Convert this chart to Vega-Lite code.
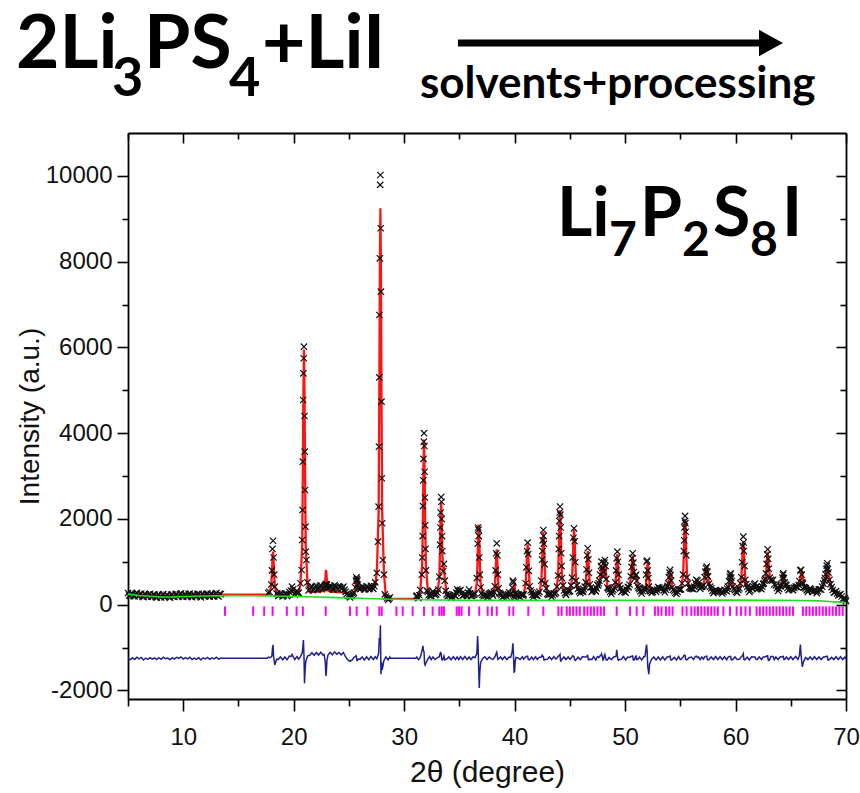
{
"$schema": "https://vega.github.io/schema/vega-lite/v6.json",
"width": 718, "height": 566,
"autosize": "none",
"padding": {"left": 128, "top": 133, "right": 14, "bottom": 94},
"background": "white",
"datasets": {
"p": [
{"x":5.0,"c":240,"o":270,"d":-1240},{"x":5.2,"c":238,"o":203,"d":-1285},{"x":5.4,"c":236,"o":256,"d":-1240},{"x":5.6,"c":234,"o":194,"d":-1280},{"x":5.8,"c":232,"o":277,"d":-1225},{"x":6.0,"c":228,"o":208,"d":-1265},{"x":6.2,"c":225,"o":260,"d":-1230},{"x":6.4,"c":222,"o":177,"d":-1290},{"x":6.6,"c":220,"o":235,"d":-1245},{"x":6.8,"c":217,"o":187,"d":-1275},{"x":7.0,"c":214,"o":254,"d":-1235},{"x":7.2,"c":211,"o":186,"d":-1270},{"x":7.4,"c":208,"o":233,"d":-1240},{"x":7.6,"c":206,"o":166,"d":-1280},{"x":7.8,"c":204,"o":234,"d":-1235},{"x":8.0,"c":203,"o":168,"d":-1275},{"x":8.2,"c":203,"o":248,"d":-1225},{"x":8.4,"c":204,"o":184,"d":-1260},{"x":8.6,"c":205,"o":225,"d":-1245},{"x":8.8,"c":206,"o":161,"d":-1285},{"x":9.0,"c":207,"o":242,"d":-1235},{"x":9.2,"c":208,"o":178,"d":-1270},{"x":9.4,"c":210,"o":250,"d":-1230},{"x":9.6,"c":211,"o":196,"d":-1255},{"x":9.8,"c":212,"o":262,"d":-1220},{"x":10.0,"c":213,"o":178,"d":-1270},{"x":10.2,"c":214,"o":244,"d":-1235},{"x":10.4,"c":214,"o":189,"d":-1265},{"x":10.6,"c":215,"o":260,"d":-1225},{"x":10.8,"c":215,"o":175,"d":-1280},{"x":11.0,"c":216,"o":236,"d":-1245},{"x":11.2,"c":216,"o":186,"d":-1275},{"x":11.4,"c":217,"o":252,"d":-1235},{"x":11.6,"c":217,"o":172,"d":-1290},{"x":11.8,"c":218,"o":243,"d":-1240},{"x":12.0,"c":218,"o":198,"d":-1265},{"x":12.2,"c":219,"o":259,"d":-1230},{"x":12.4,"c":219,"o":184,"d":-1275},{"x":12.6,"c":220,"o":250,"d":-1240},{"x":12.8,"c":220,"o":195,"d":-1265},{"x":13.0,"c":221,"o":271,"d":-1225},{"x":13.2,"c":221,"o":191,"d":-1270},{"x":13.4,"c":222,"o":247,"d":-1245},
{"x":5.1,"o":215},{"x":5.3,"o":262},{"x":5.5,"o":205},{"x":5.7,"o":250},{"x":5.9,"o":200},{"x":6.1,"o":242},{"x":6.3,"o":198},{"x":6.5,"o":250},{"x":6.7,"o":196},{"x":6.9,"o":236},{"x":7.1,"o":185},{"x":7.3,"o":238},{"x":7.5,"o":180},{"x":7.7,"o":225},{"x":7.9,"o":178},{"x":8.1,"o":226},{"x":8.3,"o":175},{"x":8.5,"o":232},{"x":8.7,"o":185},{"x":8.9,"o":230},{"x":9.1,"o":190},{"x":9.3,"o":236},{"x":9.5,"o":188},{"x":9.7,"o":242},{"x":9.9,"o":196},{"x":10.1,"o":238},{"x":10.3,"o":192},{"x":10.5,"o":245},{"x":10.7,"o":195},{"x":10.9,"o":240},{"x":11.1,"o":198},{"x":11.3,"o":246},{"x":11.5,"o":196},{"x":11.7,"o":248},{"x":11.9,"o":200},{"x":12.1,"o":244},{"x":12.3,"o":202},{"x":12.5,"o":250},{"x":12.7,"o":200},{"x":12.9,"o":246},{"x":13.1,"o":205},{"x":13.3,"o":252},
{"x":13.5,"c":235,"d":-1250},{"x":17.6,"c":235,"d":-1250},
{"x":17.7,"c":242,"o":270,"d":-1222},{"x":17.81,"c":280,"o":300,"d":-1235},{"x":17.97,"c":439,"o":470,"d":-1220},{"x":18.03,"c":738,"o":800,"d":-1190},{"x":18.08,"c":1066,"o":1300,"d":-1010},{"x":18.13,"c":1235,"o":1490,"d":-940},{"x":18.18,"c":1066,"o":1100,"d":-1215},{"x":18.23,"c":738,"o":700,"d":-1300},{"x":18.29,"c":439,"o":420,"d":-1405},{"x":18.45,"c":280,"o":260,"d":-1270},
{"x":18.6,"c":235,"o":205,"d":-1280},{"x":18.8,"c":232,"o":265,"d":-1217},{"x":19.0,"c":230,"o":195,"d":-1285},{"x":19.2,"c":230,"o":260,"d":-1220},{"x":19.4,"c":235,"o":200,"d":-1285},{"x":19.6,"c":250,"o":300,"d":-1200},{"x":19.75,"c":290,"o":330,"d":-1210},{"x":19.85,"c":330,"o":420,"d":-1160},{"x":19.95,"c":320,"o":360,"d":-1210},{"x":20.1,"c":270,"o":240,"d":-1280},{"x":20.3,"c":280,"o":320,"d":-1210},{"x":20.45,"c":300,"o":280,"d":-1270},
{"x":20.61,"c":464,"o":500,"d":-1210},{"x":20.72,"o":809},{"x":20.77,"c":1378,"o":1509,"d":-1120},{"x":20.8,"o":2208},{"x":20.83,"c":3093,"o":3335,"d":-1000},{"x":20.86,"o":4774},{"x":20.88,"c":4978,"o":5396,"d":-825},{"x":20.91,"o":5746},{"x":20.93,"c":5950,"o":6017,"d":-1180},{"x":20.98,"c":4978,"o":4400,"d":-1835},{"x":21.0,"o":3568},{"x":21.03,"c":3093,"o":2675,"d":-1550},{"x":21.06,"o":1819},{"x":21.09,"c":1378,"o":1236,"d":-1330},{"x":21.15,"o":1042},{"x":21.25,"c":464,"o":520,"d":-1200},
{"x":21.45,"c":290,"o":360,"d":-1180},{"x":21.65,"c":300,"o":430,"d":-1120},{"x":21.85,"c":300,"o":370,"d":-1180},{"x":22.05,"c":305,"o":440,"d":-1115},{"x":22.25,"c":305,"o":380,"d":-1175},{"x":22.45,"c":310,"o":450,"d":-1110},{"x":22.65,"c":315,"o":390,"d":-1175},{"x":22.75,"c":330,"o":420,"d":-1160},{"x":22.85,"c":520,"o":460,"d":-1310},{"x":22.9,"c":740,"o":430,"d":-1560},{"x":22.93,"c":810,"o":480,"d":-1665},{"x":22.96,"c":740,"o":440,"d":-1550},{"x":23.01,"c":520,"o":470,"d":-1300},{"x":23.11,"c":330,"o":410,"d":-1170},
{"x":23.3,"c":305,"o":440,"d":-1115},{"x":23.5,"c":300,"o":380,"d":-1170},{"x":23.7,"c":300,"o":450,"d":-1100},{"x":23.9,"c":295,"o":390,"d":-1155},{"x":24.1,"c":295,"o":430,"d":-1115},{"x":24.3,"c":290,"o":370,"d":-1170},{"x":24.5,"c":285,"o":420,"d":-1115},{"x":24.7,"c":270,"o":300,"d":-1220},{"x":24.9,"c":250,"o":210,"d":-1290},{"x":25.1,"c":240,"o":170,"d":-1320},{"x":25.3,"c":240,"o":200,"d":-1290},
{"x":25.45,"c":260,"o":280,"d":-1230},{"x":25.58,"c":360,"o":400,"d":-1210},{"x":25.64,"c":500,"o":560,"d":-1190},{"x":25.68,"c":610,"o":640,"d":-1220},{"x":25.72,"c":650,"o":600,"d":-1300},{"x":25.76,"c":610,"o":560,"d":-1300},{"x":25.8,"c":500,"o":470,"d":-1280},{"x":25.86,"c":400,"o":380,"d":-1270},{"x":26.0,"c":385,"o":360,"d":-1275},
{"x":26.2,"c":390,"o":420,"d":-1220},{"x":26.4,"c":392,"o":350,"d":-1290},{"x":26.6,"c":395,"o":430,"d":-1215},{"x":26.8,"c":395,"o":360,"d":-1285},{"x":27.0,"c":398,"o":440,"d":-1210},{"x":27.2,"c":400,"o":370,"d":-1280},{"x":27.38,"c":480,"o":520,"d":-1215},
{"x":27.53,"c":750,"o":740,"d":-1260},{"x":27.64,"o":1469},{"x":27.69,"c":2170,"o":2285,"d":-1135},{"x":27.72,"o":3685},{"x":27.75,"c":4820,"o":5300,"d":-780},{"x":27.76,"o":6756},{"x":27.8,"c":7740,"o":8078,"d":-910},{"x":27.83,"o":9790},{"x":27.85,"c":9245,"o":10020,"d":-480},{"x":27.88,"o":8778},{"x":27.9,"c":7740,"o":7300,"d":-1620},{"x":27.95,"c":4820,"o":4735,"d":-1335},{"x":27.98,"o":2948},{"x":28.01,"c":2170,"o":1898,"d":-1520},{"x":28.06,"o":1042},{"x":28.17,"c":750,"o":700,"d":-1300},
{"x":28.35,"c":160,"o":190,"d":-1220},{"x":28.55,"c":150,"o":110,"d":-1290},{"x":28.7,"c":140,"o":170,"d":-1220},{"x":28.75,"c":135,"d":-1250},{"x":31.05,"c":135,"d":-1250},
{"x":31.15,"c":180,"o":210,"d":-1220},{"x":31.3,"c":185,"o":150,"d":-1285},{"x":31.46,"c":322,"o":340,"d":-1230},{"x":31.6,"o":700},{"x":31.63,"c":910,"o":1100,"d":-1060},{"x":31.68,"o":1600},{"x":31.7,"c":2013,"o":2300,"d":-960},{"x":31.73,"o":2900},{"x":31.75,"c":3225,"o":3400,"d":-1075},{"x":31.78,"o":3800},{"x":31.8,"c":3850,"o":4000,"d":-1100},{"x":31.83,"o":3700},{"x":31.85,"c":3225,"o":3100,"d":-1375},{"x":31.88,"o":2500},{"x":31.9,"c":2013,"o":1850,"d":-1410},{"x":31.93,"o":1300},{"x":31.97,"c":910,"o":800,"d":-1360},{"x":32.14,"c":322,"o":300,"d":-1270},
{"x":32.3,"c":200,"o":240,"d":-1210},{"x":32.45,"c":230,"o":200,"d":-1280},{"x":32.6,"c":280,"o":310,"d":-1220},{"x":32.8,"c":250,"o":220,"d":-1280},
{"x":33.01,"c":264,"o":280,"d":-1235},{"x":33.18,"c":620,"o":650,"d":-1220},{"x":33.25,"c":1288,"o":1400,"d":-1140},{"x":33.28,"o":1800},{"x":33.3,"c":2022,"o":2150,"d":-1120},{"x":33.35,"c":2400,"o":2510,"d":-1140},{"x":33.38,"o":2400},{"x":33.4,"c":2022,"o":2000,"d":-1270},{"x":33.43,"o":1600},{"x":33.45,"c":1288,"o":1250,"d":-1290},{"x":33.52,"c":800,"o":780,"d":-1270},{"x":33.6,"c":900,"o":950,"d":-1200},{"x":33.68,"c":600,"o":560,"d":-1290},{"x":33.85,"c":260,"o":240,"d":-1270},
{"x":34.05,"c":200,"o":230,"d":-1220},{"x":34.25,"c":195,"o":160,"d":-1285},{"x":34.45,"c":200,"o":235,"d":-1215},{"x":34.65,"c":230,"o":200,"d":-1280},{"x":34.8,"c":330,"o":360,"d":-1220},{"x":34.95,"c":340,"o":310,"d":-1280},{"x":35.1,"c":300,"o":340,"d":-1210},{"x":35.3,"c":240,"o":210,"d":-1280},{"x":35.5,"c":210,"o":250,"d":-1210},{"x":35.7,"c":230,"o":200,"d":-1280},{"x":35.88,"c":320,"o":350,"d":-1220},{"x":36.05,"c":230,"o":200,"d":-1280},{"x":36.25,"c":200,"o":235,"d":-1215},
{"x":36.41,"c":243,"o":260,"d":-1235},{"x":36.58,"c":514,"o":620,"d":-1140},{"x":36.65,"c":1023,"o":1420,"d":-730},{"x":36.7,"c":1582,"o":1800,"d":-1030},{"x":36.73,"o":1750},{"x":36.75,"c":1870,"o":1600,"d":-1520},{"x":36.8,"c":1582,"o":1100,"d":-1945},{"x":36.85,"c":1023,"o":700,"d":-1570},{"x":36.92,"c":514,"o":400,"d":-1360},{"x":37.09,"c":243,"o":230,"d":-1260},
{"x":37.3,"c":190,"o":225,"d":-1215},{"x":37.5,"c":200,"o":170,"d":-1280},{"x":37.7,"c":220,"o":250,"d":-1220},{"x":37.9,"c":300,"o":280,"d":-1265},
{"x":38.04,"c":240,"o":210,"d":-1275},{"x":38.21,"c":395,"o":430,"d":-1215},{"x":38.28,"c":725,"o":800,"d":-1175},{"x":38.33,"c":1088,"o":1200,"d":-1140},{"x":38.38,"c":1290,"o":1431,"d":-1110},{"x":38.43,"c":1088,"o":1150,"d":-1190},{"x":38.48,"c":725,"o":700,"d":-1275},{"x":38.55,"c":395,"o":380,"d":-1265},{"x":38.72,"c":220,"o":250,"d":-1220},
{"x":38.9,"c":200,"o":170,"d":-1280},{"x":39.1,"c":195,"o":230,"d":-1215},{"x":39.3,"c":210,"o":180,"d":-1280},{"x":39.5,"c":260,"o":290,"d":-1220},
{"x":39.65,"c":225,"o":250,"d":-1225},{"x":39.78,"c":250,"o":400,"d":-1100},{"x":39.84,"c":290,"o":560,"d":-900},{"x":39.89,"c":380,"o":520,"d":-1110},{"x":39.95,"c":520,"o":200,"d":-1570},{"x":40.0,"c":470,"o":160,"d":-1560},{"x":40.05,"c":330,"o":250,"d":-1330},{"x":40.12,"c":260,"o":280,"d":-1230},{"x":40.3,"c":220,"o":230,"d":-1240},
{"x":40.5,"c":200,"o":170,"d":-1280},{"x":40.7,"c":205,"o":240,"d":-1215},
{"x":40.82,"c":260,"o":240,"d":-1270},{"x":41.0,"c":464,"o":500,"d":-1215},{"x":41.07,"c":824,"o":870,"d":-1205},{"x":41.125,"c":1208,"o":1250,"d":-1210},{"x":41.18,"c":1400,"o":1447,"d":-1205},{"x":41.235,"c":1208,"o":1180,"d":-1280},{"x":41.29,"c":824,"o":790,"d":-1285},{"x":41.36,"c":464,"o":430,"d":-1285},{"x":41.54,"c":260,"o":290,"d":-1220},
{"x":41.7,"c":210,"o":180,"d":-1280},{"x":41.9,"c":220,"o":255,"d":-1215},{"x":42.05,"c":240,"o":210,"d":-1280},
{"x":42.24,"c":275,"o":300,"d":-1225},{"x":42.42,"c":530,"o":560,"d":-1220},{"x":42.49,"c":980,"o":1050,"d":-1180},{"x":42.52,"o":1250},{"x":42.545,"c":1460,"o":1500,"d":-1210},{"x":42.6,"c":1700,"o":1742,"d":-1210},{"x":42.63,"o":1600},{"x":42.655,"c":1460,"o":1420,"d":-1290},{"x":42.71,"c":980,"o":940,"d":-1290},{"x":42.78,"c":530,"o":500,"d":-1280},{"x":42.96,"c":275,"o":250,"d":-1275},
{"x":43.15,"c":220,"o":250,"d":-1220},{"x":43.35,"c":210,"o":180,"d":-1280},{"x":43.55,"c":230,"o":265,"d":-1215},
{"x":43.75,"c":300,"o":280,"d":-1270},{"x":43.93,"c":640,"o":680,"d":-1210},{"x":44.0,"c":1240,"o":1300,"d":-1190},{"x":44.03,"o":1600},{"x":44.055,"c":1880,"o":1950,"d":-1180},{"x":44.08,"o":2150},{"x":44.11,"c":2200,"o":2290,"d":-1160},{"x":44.14,"o":2100},{"x":44.165,"c":1880,"o":1800,"d":-1330},{"x":44.22,"c":1240,"o":1200,"d":-1290},{"x":44.25,"o":900},{"x":44.29,"c":640,"o":620,"d":-1270},{"x":44.47,"c":300,"o":330,"d":-1220},
{"x":44.65,"c":260,"o":230,"d":-1280},{"x":44.85,"c":300,"o":330,"d":-1220},
{"x":45.02,"c":345,"o":320,"d":-1275},{"x":45.2,"c":595,"o":630,"d":-1215},{"x":45.27,"c":1040,"o":1100,"d":-1190},{"x":45.325,"c":1513,"o":1560,"d":-1205},{"x":45.38,"c":1750,"o":1781,"d":-1220},{"x":45.435,"c":1513,"o":1480,"d":-1285},{"x":45.49,"c":1040,"o":990,"d":-1300},{"x":45.56,"c":595,"o":560,"d":-1285},{"x":45.74,"c":345,"o":370,"d":-1225},
{"x":45.95,"c":300,"o":270,"d":-1280},{"x":46.15,"c":290,"o":330,"d":-1210},
{"x":46.26,"c":330,"o":360,"d":-1220},{"x":46.44,"c":490,"o":520,"d":-1220},{"x":46.51,"c":780,"o":820,"d":-1210},{"x":46.565,"c":1095,"o":1150,"d":-1195},{"x":46.62,"c":1250,"o":1315,"d":-1185},{"x":46.675,"c":1095,"o":1060,"d":-1285},{"x":46.73,"c":780,"o":740,"d":-1290},{"x":46.8,"c":490,"o":470,"d":-1270},{"x":46.98,"c":330,"o":300,"d":-1280},
{"x":47.15,"c":320,"o":360,"d":-1210},{"x":47.35,"c":350,"o":310,"d":-1290},{"x":47.5,"c":420,"o":460,"d":-1210},
{"x":47.62,"c":480,"o":500,"d":-1230},{"x":47.75,"c":640,"o":700,"d":-1190},{"x":47.82,"c":830,"o":900,"d":-1180},{"x":47.87,"c":900,"o":1004,"d":-1145},{"x":47.93,"c":820,"o":860,"d":-1210},{"x":48.0,"c":700,"o":660,"d":-1290},{"x":48.06,"c":780,"o":760,"d":-1270},{"x":48.12,"c":920,"o":980,"d":-1190},{"x":48.17,"c":950,"o":1040,"d":-1160},{"x":48.23,"c":880,"o":900,"d":-1230},{"x":48.3,"c":640,"o":600,"d":-1290},{"x":48.4,"c":440,"o":400,"d":-1290},{"x":48.55,"c":330,"o":350,"d":-1230},
{"x":48.75,"c":280,"o":250,"d":-1280},
{"x":48.94,"c":325,"o":350,"d":-1225},{"x":49.12,"c":478,"o":520,"d":-1210},{"x":49.19,"c":748,"o":800,"d":-1200},{"x":49.245,"c":1036,"o":1080,"d":-1055},{"x":49.3,"c":1180,"o":1237,"d":-1190},{"x":49.355,"c":1036,"o":1000,"d":-1285},{"x":49.41,"c":748,"o":700,"d":-1300},{"x":49.48,"c":478,"o":450,"d":-1280},{"x":49.66,"c":325,"o":300,"d":-1275},
{"x":49.85,"c":300,"o":340,"d":-1210},{"x":50.05,"c":320,"o":280,"d":-1290},{"x":50.25,"c":380,"o":410,"d":-1220},
{"x":50.4,"c":450,"o":470,"d":-1230},{"x":50.52,"c":620,"o":660,"d":-1210},{"x":50.59,"c":840,"o":880,"d":-1210},{"x":50.64,"c":1030,"o":1080,"d":-1200},{"x":50.69,"c":1150,"o":1198,"d":-1200},{"x":50.745,"c":1020,"o":980,"d":-1290},{"x":50.8,"c":800,"o":760,"d":-1290},{"x":50.87,"c":640,"o":610,"d":-1280},{"x":50.95,"c":640,"o":680,"d":-1210},{"x":51.0,"c":650,"o":700,"d":-1200},{"x":51.06,"c":590,"o":560,"d":-1280},{"x":51.15,"c":460,"o":430,"d":-1280},{"x":51.3,"c":330,"o":360,"d":-1220},
{"x":51.5,"c":300,"o":260,"d":-1290},{"x":51.7,"c":320,"o":360,"d":-1210},
{"x":51.8,"c":360,"o":400,"d":-1210},{"x":51.9,"c":470,"o":700,"d":-1020},{"x":51.95,"c":680,"o":1000,"d":-930},{"x":52.0,"c":880,"o":1027,"d":-1100},{"x":52.05,"c":980,"o":800,"d":-1430},{"x":52.1,"c":900,"o":620,"d":-1530},{"x":52.15,"c":700,"o":420,"d":-1620},{"x":52.22,"c":460,"o":330,"d":-1380},{"x":52.4,"c":300,"o":280,"d":-1270},
{"x":52.6,"c":320,"o":350,"d":-1220},{"x":52.8,"c":340,"o":300,"d":-1290},{"x":53.0,"c":380,"o":410,"d":-1220},{"x":53.2,"c":400,"o":360,"d":-1290},{"x":53.4,"c":360,"o":395,"d":-1215},{"x":53.6,"c":330,"o":290,"d":-1290},{"x":53.8,"c":380,"o":410,"d":-1220},
{"x":53.9,"c":470,"o":500,"d":-1220},{"x":53.97,"c":600,"o":640,"d":-1210},{"x":54.02,"c":710,"o":750,"d":-1210},{"x":54.07,"c":760,"o":810,"d":-1200},{"x":54.12,"c":710,"o":690,"d":-1270},{"x":54.17,"c":600,"o":560,"d":-1290},{"x":54.25,"c":430,"o":400,"d":-1280},{"x":54.45,"c":300,"o":320,"d":-1230},
{"x":54.65,"c":290,"o":250,"d":-1290},{"x":54.85,"c":320,"o":360,"d":-1210},{"x":55.0,"c":380,"o":350,"d":-1280},
{"x":55.07,"c":385,"o":360,"d":-1275},{"x":55.25,"c":674,"o":700,"d":-1225},{"x":55.32,"c":1184,"o":1250,"d":-1185},{"x":55.35,"o":1500},{"x":55.375,"c":1728,"o":1800,"d":-1180},{"x":55.4,"o":1950},{"x":55.43,"c":2000,"o":2070,"d":-1180},{"x":55.46,"o":1900},{"x":55.485,"c":1728,"o":1700,"d":-1280},{"x":55.54,"c":1184,"o":1150,"d":-1285},{"x":55.61,"c":674,"o":640,"d":-1285},{"x":55.79,"c":385,"o":400,"d":-1235},
{"x":56.0,"c":350,"o":380,"d":-1220},{"x":56.2,"c":390,"o":360,"d":-1280},{"x":56.35,"c":470,"o":510,"d":-1210},{"x":56.45,"c":530,"o":580,"d":-1200},{"x":56.55,"c":545,"o":560,"d":-1235},{"x":56.65,"c":480,"o":510,"d":-1220},{"x":56.8,"c":400,"o":370,"d":-1280},{"x":56.95,"c":390,"o":420,"d":-1220},{"x":57.1,"c":470,"o":450,"d":-1270},{"x":57.2,"c":610,"o":640,"d":-1220},{"x":57.27,"c":730,"o":770,"d":-1210},{"x":57.33,"c":810,"o":850,"d":-1210},{"x":57.39,"c":840,"o":887,"d":-1200},{"x":57.45,"c":800,"o":770,"d":-1280},{"x":57.51,"c":700,"o":660,"d":-1290},{"x":57.6,"c":520,"o":490,"d":-1280},{"x":57.8,"c":350,"o":380,"d":-1220},
{"x":58.0,"c":300,"o":270,"d":-1280},{"x":58.2,"c":300,"o":340,"d":-1210},{"x":58.4,"c":330,"o":300,"d":-1280},{"x":58.6,"c":300,"o":335,"d":-1215},{"x":58.8,"c":290,"o":260,"d":-1280},{"x":59.0,"c":310,"o":345,"d":-1215},{"x":59.2,"c":350,"o":315,"d":-1285},
{"x":59.3,"c":400,"o":420,"d":-1230},{"x":59.42,"c":510,"o":550,"d":-1210},{"x":59.48,"c":610,"o":650,"d":-1210},{"x":59.52,"c":665,"o":705,"d":-1210},{"x":59.56,"c":690,"o":732,"d":-1210},{"x":59.6,"c":665,"o":630,"d":-1280},{"x":59.66,"c":590,"o":550,"d":-1290},{"x":59.75,"c":450,"o":420,"d":-1280},{"x":59.95,"c":310,"o":340,"d":-1220},
{"x":60.15,"c":310,"o":280,"d":-1280},
{"x":60.34,"c":400,"o":380,"d":-1275},{"x":60.52,"c":600,"o":640,"d":-1215},{"x":60.59,"c":940,"o":990,"d":-1200},{"x":60.645,"c":1290,"o":1370,"d":-1175},{"x":60.7,"c":1480,"o":1587,"d":-1145},{"x":60.73,"o":1450},{"x":60.755,"c":1290,"o":1250,"d":-1275},{"x":60.81,"c":940,"o":900,"d":-1285},{"x":60.88,"c":600,"o":580,"d":-1275},{"x":61.06,"c":400,"o":420,"d":-1225},
{"x":61.25,"c":340,"o":300,"d":-1290},{"x":61.45,"c":360,"o":395,"d":-1215},
{"x":61.6,"c":400,"o":430,"d":-1220},{"x":61.68,"c":440,"o":470,"d":-1220},{"x":61.76,"c":465,"o":499,"d":-1220},{"x":61.84,"c":440,"o":410,"d":-1270},{"x":61.95,"c":390,"o":360,"d":-1280},
{"x":62.15,"c":370,"o":400,"d":-1220},{"x":62.35,"c":390,"o":360,"d":-1280},{"x":62.5,"c":450,"o":480,"d":-1220},
{"x":62.62,"c":530,"o":560,"d":-1220},{"x":62.75,"c":690,"o":730,"d":-1210},{"x":62.81,"c":910,"o":950,"d":-1210},{"x":62.86,"c":1110,"o":1170,"d":-1190},{"x":62.91,"c":1230,"o":1291,"d":-1190},{"x":62.96,"c":1110,"o":1070,"d":-1290},{"x":63.01,"c":890,"o":840,"d":-1300},{"x":63.1,"c":660,"o":630,"d":-1280},{"x":63.2,"c":540,"o":580,"d":-1210},{"x":63.3,"c":520,"o":560,"d":-1210},{"x":63.4,"c":540,"o":580,"d":-1210},{"x":63.5,"c":500,"o":470,"d":-1280},{"x":63.65,"c":420,"o":450,"d":-1220},{"x":63.85,"c":350,"o":320,"d":-1280},
{"x":64.05,"c":390,"o":425,"d":-1215},{"x":64.15,"c":450,"o":480,"d":-1220},{"x":64.25,"c":590,"o":630,"d":-1210},{"x":64.3,"c":665,"o":700,"d":-1215},{"x":64.33,"c":690,"o":732,"d":-1210},{"x":64.38,"c":655,"o":620,"d":-1280},{"x":64.45,"c":550,"o":520,"d":-1280},{"x":64.6,"c":420,"o":450,"d":-1220},
{"x":64.8,"c":370,"o":340,"d":-1280},{"x":65.0,"c":350,"o":385,"d":-1215},{"x":65.2,"c":370,"o":340,"d":-1280},{"x":65.45,"c":380,"o":420,"d":-1210},{"x":65.65,"c":430,"o":400,"d":-1280},
{"x":65.78,"c":490,"o":550,"d":-1190},{"x":65.87,"c":610,"o":800,"d":-930},{"x":65.93,"c":720,"o":810,"d":-1160},{"x":65.99,"c":770,"o":700,"d":-1320},{"x":66.05,"c":720,"o":520,"d":-1450},{"x":66.11,"c":610,"o":490,"d":-1370},{"x":66.2,"c":470,"o":410,"d":-1310},{"x":66.35,"c":360,"o":380,"d":-1230},
{"x":66.55,"c":330,"o":300,"d":-1280},{"x":66.75,"c":350,"o":380,"d":-1220},{"x":66.95,"c":330,"o":300,"d":-1280},{"x":67.15,"c":310,"o":345,"d":-1215},{"x":67.35,"c":300,"o":270,"d":-1280},{"x":67.55,"c":330,"o":360,"d":-1220},{"x":67.75,"c":380,"o":350,"d":-1280},{"x":67.95,"c":460,"o":490,"d":-1220},
{"x":68.05,"c":530,"o":560,"d":-1220},{"x":68.15,"c":670,"o":710,"d":-1210},{"x":68.21,"c":790,"o":830,"d":-1210},{"x":68.26,"c":870,"o":910,"d":-1210},{"x":68.31,"c":920,"o":965,"d":-1205},{"x":68.36,"c":870,"o":830,"d":-1290},{"x":68.41,"c":790,"o":750,"d":-1290},{"x":68.5,"c":610,"o":580,"d":-1280},{"x":68.7,"c":390,"o":410,"d":-1230},
{"x":68.9,"c":310,"o":280,"d":-1280},{"x":69.1,"c":280,"o":315,"d":-1215},{"x":69.3,"c":250,"o":220,"d":-1280},{"x":69.5,"c":210,"o":245,"d":-1215},{"x":69.7,"c":160,"o":130,"d":-1280},{"x":69.9,"c":120,"o":150,"d":-1220},{"x":70.0,"c":100,"o":80,"d":-1270},
{"x":18.53,"o":250},{"x":18.7,"o":220},{"x":18.9,"o":250},{"x":19.1,"o":215},{"x":19.3,"o":245},{"x":19.5,"o":230},{"x":20.2,"o":290},{"x":20.38,"o":260},{"x":21.35,"o":330},{"x":21.55,"o":400},{"x":21.75,"o":340},{"x":21.95,"o":410},{"x":22.15,"o":350},{"x":22.35,"o":420},{"x":22.55,"o":360},{"x":23.2,"o":390},{"x":23.4,"o":420},{"x":23.6,"o":350},{"x":23.8,"o":420},{"x":24.0,"o":360},{"x":24.2,"o":410},{"x":24.4,"o":390},{"x":24.6,"o":350},{"x":24.8,"o":250},{"x":25.0,"o":200},{"x":25.2,"o":230},{"x":25.38,"o":250},{"x":25.93,"o":400},{"x":26.1,"o":380},{"x":26.3,"o":400},{"x":26.5,"o":370},{"x":26.7,"o":410},{"x":26.9,"o":380},{"x":27.1,"o":400},{"x":27.3,"o":430},{"x":28.25,"o":240},{"x":28.45,"o":150},{"x":28.62,"o":140},
{"x":31.1,"o":190},{"x":31.22,"o":170},{"x":31.38,"o":220},{"x":32.05,"o":330},{"x":32.22,"o":220},{"x":32.38,"o":210},{"x":32.52,"o":250},{"x":32.7,"o":260},{"x":32.9,"o":240},{"x":33.1,"o":350},{"x":33.76,"o":320},{"x":33.95,"o":200},{"x":34.15,"o":210},{"x":34.35,"o":190},{"x":34.55,"o":220},{"x":34.72,"o":280},{"x":34.88,"o":320},{"x":35.02,"o":330},{"x":35.2,"o":260},{"x":35.4,"o":220},{"x":35.6,"o":230},{"x":35.79,"o":280},{"x":35.96,"o":260},{"x":36.15,"o":210},{"x":36.33,"o":230},{"x":37.0,"o":270},{"x":37.2,"o":200},{"x":37.4,"o":210},{"x":37.6,"o":195},{"x":37.8,"o":270},{"x":37.98,"o":250},{"x":38.12,"o":300},{"x":38.63,"o":270},{"x":38.81,"o":220},{"x":39.0,"o":190},{"x":39.2,"o":220},{"x":39.4,"o":240},{"x":39.58,"o":240},{"x":40.2,"o":240},{"x":40.4,"o":210},{"x":40.6,"o":230},{"x":40.76,"o":210},{"x":41.45,"o":330},{"x":41.62,"o":230},{"x":41.8,"o":230},{"x":41.98,"o":210},{"x":42.15,"o":260},{"x":42.87,"o":380},{"x":43.05,"o":230},{"x":43.25,"o":240},{"x":43.45,"o":220},{"x":43.65,"o":250},{"x":43.84,"o":420},{"x":44.38,"o":450},{"x":44.56,"o":270},{"x":44.75,"o":290},{"x":44.94,"o":300},{"x":45.11,"o":450},{"x":45.65,"o":450},{"x":45.85,"o":310},{"x":46.05,"o":310},{"x":46.2,"o":300},{"x":46.35,"o":420},{"x":46.89,"o":400},{"x":47.06,"o":320},{"x":47.25,"o":340},{"x":47.42,"o":380},{"x":47.56,"o":450},{"x":47.68,"o":560},{"x":48.47,"o":380},{"x":48.65,"o":300},{"x":48.85,"o":310},{"x":49.03,"o":400},{"x":49.57,"o":380},{"x":49.75,"o":320},{"x":49.95,"o":300},{"x":50.15,"o":350},{"x":50.32,"o":410},
{"x":51.22,"o":390},{"x":51.4,"o":310},{"x":51.6,"o":320},{"x":51.75,"o":370},{"x":52.3,"o":310},{"x":52.5,"o":300},{"x":52.7,"o":340},{"x":52.9,"o":350},{"x":53.1,"o":390},{"x":53.3,"o":380},{"x":53.5,"o":330},{"x":53.7,"o":350},{"x":53.85,"o":440},{"x":54.35,"o":350},{"x":54.55,"o":280},{"x":54.75,"o":300},{"x":54.92,"o":350},{"x":55.16,"o":500},{"x":55.7,"o":500},{"x":55.9,"o":380},{"x":56.1,"o":370},{"x":56.28,"o":420},{"x":56.72,"o":440},{"x":56.88,"o":410},{"x":57.02,"o":430},{"x":57.7,"o":420},{"x":57.9,"o":320},{"x":58.1,"o":310},{"x":58.3,"o":320},{"x":58.5,"o":310},{"x":58.7,"o":290},{"x":58.9,"o":300},{"x":59.1,"o":330},{"x":59.25,"o":370},{"x":59.85,"o":370},{"x":60.05,"o":300},{"x":60.25,"o":340},{"x":60.43,"o":500},{"x":60.97,"o":480},{"x":61.15,"o":360},{"x":61.35,"o":330},{"x":61.52,"o":380},{"x":61.9,"o":420},{"x":62.05,"o":380},{"x":62.25,"o":380},{"x":62.42,"o":420},{"x":62.56,"o":500},{"x":62.68,"o":600},{"x":63.75,"o":390},{"x":63.95,"o":370},{"x":64.1,"o":440},{"x":64.52,"o":470},{"x":64.7,"o":390},{"x":64.9,"o":360},{"x":65.1,"o":360},{"x":65.32,"o":390},{"x":65.55,"o":420},{"x":65.72,"o":460},{"x":66.27,"o":400},{"x":66.45,"o":340},{"x":66.65,"o":350},{"x":66.85,"o":350},{"x":67.05,"o":320},{"x":67.25,"o":320},{"x":67.45,"o":310},{"x":67.65,"o":360},{"x":67.85,"o":420},{"x":68.1,"o":620},{"x":68.6,"o":480},{"x":68.8,"o":340},{"x":69.0,"o":290},{"x":69.2,"o":260},{"x":69.4,"o":230},{"x":69.6,"o":190},{"x":69.8,"o":140},{"x":69.95,"o":110}
],
"bg": [
{"x":5,"b":245},{"x":6,"b":215},{"x":7,"b":195},{"x":8,"b":180},{"x":9,"b":182},{"x":10,"b":190},{"x":11,"b":198},{"x":12,"b":203},{"x":13,"b":205},{"x":14,"b":208},{"x":15,"b":210},{"x":16,"b":208},{"x":17,"b":206},{"x":18,"b":203},{"x":20,"b":192},{"x":22,"b":180},{"x":24,"b":165},{"x":26,"b":148},{"x":28,"b":133},{"x":30,"b":120},{"x":33,"b":110},{"x":36,"b":104},{"x":40,"b":100},{"x":45,"b":100},{"x":50,"b":102},{"x":55,"b":104},{"x":60,"b":105},{"x":64,"b":102},{"x":66,"b":97},{"x":67.5,"b":88},{"x":68.5,"b":75},{"x":69.3,"b":60},{"x":70,"b":45}
],
"bragg": [
{"x":13.78},{"x":16.33},{"x":17.33},{"x":18.09},{"x":19.38},{"x":20.26},{"x":20.83},{"x":22.9},{"x":25.1},{"x":25.7},{"x":26.67},{"x":27.75},{"x":27.97},{"x":29.3},{"x":29.87},{"x":30.77},{"x":31.8},{"x":32.58},{"x":33.18},{"x":33.4},{"x":33.6},{"x":34.76},{"x":34.97},{"x":35.2},{"x":35.87},{"x":36.8},{"x":37.56},{"x":37.95},{"x":38.38},{"x":39.52},{"x":39.88},{"x":41.24},{"x":42.6},{"x":43.96},{"x":44.26},{"x":44.72},{"x":45.0},{"x":45.3},{"x":45.6},{"x":45.9},{"x":46.3},{"x":46.6},{"x":46.9},{"x":47.2},{"x":47.5},{"x":47.8},{"x":48.1},{"x":49.24},{"x":50.45},{"x":51.05},{"x":51.65},{"x":52.7},{"x":53.0},{"x":53.3},{"x":53.7},{"x":54.0},{"x":54.3},{"x":55.2},{"x":55.57},{"x":56.0},{"x":56.3},{"x":56.6},{"x":56.9},{"x":57.2},{"x":57.5},{"x":57.8},{"x":58.1},{"x":58.4},{"x":58.9},{"x":59.5},{"x":60.1},{"x":60.5},{"x":60.9},{"x":61.3},{"x":61.9},{"x":62.2},{"x":62.5},{"x":62.8},{"x":63.1},{"x":63.4},{"x":63.7},{"x":64.0},{"x":64.3},{"x":64.6},{"x":64.9},{"x":65.2},{"x":66.1},{"x":66.4},{"x":66.7},{"x":67.0},{"x":67.3},{"x":67.6},{"x":67.9},{"x":68.2},{"x":68.5},{"x":68.8},{"x":69.1},{"x":69.4},{"x":69.7}
],
"hdr": [{"t":"2Li","x":-5.14,"y":12516},{"t":"PS","x":6.45,"y":12516},{"t":"+LiI","x":17.13,"y":12516}],
"hdrsub": [{"t":"3","x":3.55,"y":11863},{"t":"4","x":14.14,"y":11863}],
"lab": [{"t":"Li","x":43.84,"y":8598},{"t":"P","x":51.35,"y":8598},{"t":"S","x":57.96,"y":8598},{"t":"I","x":64.21,"y":8598}],
"labsub": [{"t":"7","x":48.55,"y":8131},{"t":"2","x":55.15,"y":8131},{"t":"8","x":61.31,"y":8131}],
"note": [{"t":"solvents+processing","x":31.43,"y":11816}],
"arrow": [{"x":34.87,"x2":63.21,"y":13099}]
},
"layer": [
 {"data": {"name": "p"}, "transform": [{"filter": "isValid(datum.c)"}],
  "mark": {"type": "line", "color": "#ff1414", "strokeWidth": 2.3},
  "encoding": {
   "x": {"field": "x", "type": "quantitative", "scale": {"domain": [5, 70], "nice": false, "zero": false},
    "axis": {"orient": "bottom", "values": [5,10,15,20,25,30,35,40,45,50,55,60,65,70],
     "labelExpr": "datum.value % 10 === 0 ? '' + datum.value : ''",
     "tickSize": {"condition": {"test": "datum.value % 10 === 0", "value": 12}, "value": 7},
     "labelPadding": 14, "labelFlush": false, "labelOverlap": false,
     "title": "2θ (degree)", "titlePadding": 8, "titleFontSize": 30}},
   "y": {"field": "c", "type": "quantitative", "scale": {"domain": [-2200, 11000], "nice": false, "zero": false},
    "axis": {"orient": "left", "values": [-2000,-1000,0,1000,2000,3000,4000,5000,6000,7000,8000,9000,10000],
     "labelExpr": "datum.value % 2000 === 0 ? '' + datum.value : ''",
     "tickSize": {"condition": {"test": "datum.value % 2000 === 0", "value": 11}, "value": 6},
     "labelPadding": 5, "labelOverlap": false,
     "title": "Intensity (a.u.)", "titlePadding": 1, "titleFontSize": 28}}
  }},
 {"data": {"name": "p"}, "transform": [{"filter": "isValid(datum.o)"}],
  "mark": {"type": "point", "shape": "M-1,-1L1,1M-1,1L1,-1", "filled": false, "stroke": "#111111", "strokeWidth": 1.2, "size": 40, "opacity": 1},
  "encoding": {
   "x": {"field": "x", "type": "quantitative", "axis": null},
   "y": {"field": "o", "type": "quantitative", "axis": null}
  }},
 {"data": {"name": "bragg"},
  "mark": {"type": "rule", "color": "#ff00ff", "strokeWidth": 2},
  "encoding": {
   "x": {"field": "x", "type": "quantitative", "axis": null},
   "y": {"datum": -40, "type": "quantitative", "axis": null},
   "y2": {"datum": -260}
  }},
 {"data": {"name": "p"}, "transform": [{"filter": "isValid(datum.d)"}],
  "mark": {"type": "line", "color": "#1f1f8f", "strokeWidth": 1.5},
  "encoding": {
   "x": {"field": "x", "type": "quantitative", "axis": null},
   "y": {"field": "d", "type": "quantitative", "axis": null}
  }},
 {"data": {"name": "hdr"},
  "mark": {"type": "text", "font": "Lato", "fontWeight": "bold", "fontSize": 75, "align": "left", "baseline": "alphabetic", "color": "#000000"},
  "encoding": {
   "x": {"field": "x", "type": "quantitative", "axis": null},
   "y": {"field": "y", "type": "quantitative", "axis": null},
   "text": {"field": "t"}
  }},
 {"data": {"name": "hdrsub"},
  "mark": {"type": "text", "font": "Lato", "fontWeight": "bold", "fontSize": 54, "align": "left", "baseline": "alphabetic", "color": "#000000"},
  "encoding": {
   "x": {"field": "x", "type": "quantitative", "axis": null},
   "y": {"field": "y", "type": "quantitative", "axis": null},
   "text": {"field": "t"}
  }},
 {"data": {"name": "lab"},
  "mark": {"type": "text", "font": "Lato", "fontWeight": "bold", "fontSize": 68, "align": "left", "baseline": "alphabetic", "color": "#000000"},
  "encoding": {
   "x": {"field": "x", "type": "quantitative", "axis": null},
   "y": {"field": "y", "type": "quantitative", "axis": null},
   "text": {"field": "t"}
  }},
 {"data": {"name": "labsub"},
  "mark": {"type": "text", "font": "Lato", "fontWeight": "bold", "fontSize": 48, "align": "left", "baseline": "alphabetic", "color": "#000000"},
  "encoding": {
   "x": {"field": "x", "type": "quantitative", "axis": null},
   "y": {"field": "y", "type": "quantitative", "axis": null},
   "text": {"field": "t"}
  }},
 {"data": {"name": "note"},
  "mark": {"type": "text", "font": "Lato", "fontWeight": "bold", "fontSize": 44, "align": "left", "baseline": "alphabetic", "color": "#000000"},
  "encoding": {
   "x": {"field": "x", "type": "quantitative", "axis": null},
   "y": {"field": "y", "type": "quantitative", "axis": null},
   "text": {"field": "t"}
  }},
 {"data": {"name": "arrow"},
  "mark": {"type": "rule", "color": "#000000", "strokeWidth": 7},
  "encoding": {
   "x": {"field": "x", "type": "quantitative", "axis": null},
   "x2": {"field": "x2"},
   "y": {"field": "y", "type": "quantitative", "axis": null}
  }},
 {"data": {"name": "arrow"},
  "mark": {"type": "point", "shape": "M-1,-1.1L1,0L-1,1.1Z", "filled": true, "color": "#000000", "size": 576, "opacity": 1},
  "encoding": {
   "x": {"field": "x2", "type": "quantitative", "axis": null},
   "y": {"field": "y", "type": "quantitative", "axis": null}
  }},
 {"data": {"name": "bg"},
  "mark": {"type": "line", "color": "#22dd22", "strokeWidth": 1.6},
  "encoding": {
   "x": {"field": "x", "type": "quantitative", "scale": {"domain": [5, 70], "nice": false, "zero": false},
    "axis": {"orient": "top", "values": [5,10,15,20,25,30,35,40,45,50,55,60,65,70], "labels": false, "title": null,
     "tickSize": {"condition": {"test": "datum.value % 10 === 0", "value": -10}, "value": -6}}},
   "y": {"field": "b", "type": "quantitative", "scale": {"domain": [-2200, 11000], "nice": false, "zero": false},
    "axis": {"orient": "right", "values": [-2000,-1000,0,1000,2000,3000,4000,5000,6000,7000,8000,9000,10000], "labels": false, "title": null,
     "tickSize": {"condition": {"test": "datum.value % 2000 === 0", "value": -10}, "value": -6}}}
  }}
],
"resolve": {"axis": {"x": "independent", "y": "independent"}},
"config": {
 "font": "Liberation Sans",
 "view": {"stroke": null},
 "axis": {"domainColor": "#000000", "domainWidth": 1.8, "tickColor": "#000000", "tickWidth": 1.6, "grid": false,
  "labelColor": "#111111", "labelFont": "Liberation Sans", "labelFontSize": 24,
  "titleColor": "#111111", "titleFont": "Liberation Sans", "titleFontSize": 25, "titleFontWeight": "normal"}
}
}
